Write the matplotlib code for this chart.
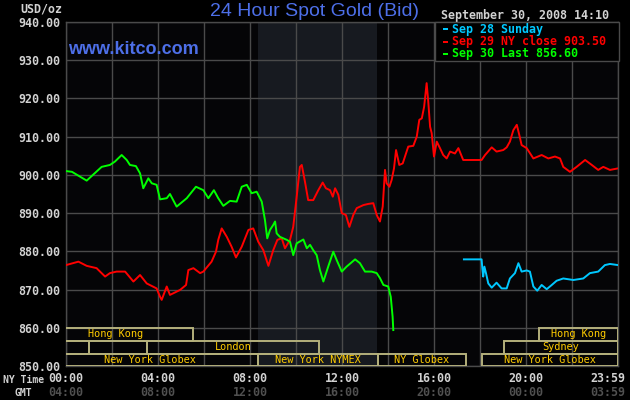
import matplotlib
matplotlib.use('Agg')
import matplotlib.pyplot as plt
from matplotlib.patches import Rectangle
from matplotlib.transforms import offset_copy

# ---------------- data ----------------
sep30_hours = [0.00, 0.26, 0.90, 1.17, 1.55, 1.91, 2.13, 2.42, 2.64, 2.78, 3.04, 3.22, 3.36, 3.58,
               3.73, 3.94, 4.09, 4.38, 4.52, 4.81, 5.25, 5.65, 5.97, 6.19, 6.43, 6.62, 6.84, 7.13,
               7.42, 7.64, 7.86, 8.07, 8.29, 8.51, 8.65, 8.75, 8.87, 9.01, 9.09, 9.16, 9.30, 9.60,
               9.74, 9.88, 10.03, 10.32, 10.47, 10.61, 10.75, 10.90, 11.04, 11.19, 11.40, 11.62,
               11.77, 11.99, 12.20, 12.57, 12.78, 13.00, 13.29, 13.51, 13.65, 13.80, 14.01, 14.12,
               14.20, 14.23]
sep30_price = [901.0, 900.8, 898.5, 900.0, 902.1, 902.6, 903.5, 905.2, 903.9, 902.6, 902.3, 900.4,
               896.5, 899.1, 897.8, 897.4, 893.6, 893.9, 895.0, 891.7, 893.9, 896.9, 896.0, 893.9,
               896.0, 893.9, 891.9, 893.2, 893.0, 896.9, 897.4, 895.2, 895.6, 893.0, 888.2, 883.4,
               885.6, 886.9, 887.8, 884.7, 883.8, 883.0, 882.5, 879.0, 882.1, 883.1, 880.8, 881.7,
               880.3, 879.0, 875.1, 872.1, 876.0, 879.9, 877.7, 874.7, 876.0, 877.9, 876.9, 874.7,
               874.7, 874.3, 873.0, 871.2, 870.8, 868.1, 862.9, 859.4]

sep29_hours = [0.00, 0.54, 0.90, 1.33, 1.48, 1.70, 1.91, 2.20, 2.57, 2.93, 3.22, 3.51, 3.94, 4.09,
               4.16, 4.38, 4.52, 4.96, 5.22, 5.32, 5.54, 5.83, 5.97, 6.33, 6.52, 6.62, 6.77, 6.99,
               7.20, 7.39, 7.64, 7.93, 8.14, 8.36, 8.58, 8.80, 9.01, 9.19, 9.38, 9.52, 9.74, 9.88,
               10.03, 10.17, 10.25, 10.39, 10.53, 10.75, 10.97, 11.16, 11.30, 11.48, 11.60, 11.70,
               11.84, 11.99, 12.17, 12.32, 12.49, 12.64, 12.93, 13.14, 13.36, 13.51, 13.65, 13.77,
               13.87, 13.94, 14.06, 14.16, 14.26, 14.35, 14.49, 14.64, 14.88, 15.10, 15.25, 15.36,
               15.47, 15.57, 15.68, 15.75, 15.83, 15.90, 16.00, 16.12, 16.26, 16.40, 16.55, 16.70,
               16.91, 17.06, 17.27, 18.07, 18.22, 18.51, 18.72, 19.01, 19.16, 19.30, 19.45, 19.60,
               19.71, 19.81, 20.03, 20.32, 20.68, 20.97, 21.26, 21.48, 21.62, 21.91, 22.20, 22.57,
               22.86, 23.14, 23.36, 23.65, 24.00]
sep29_price = [876.4, 877.3, 876.2, 875.6, 874.7, 873.4, 874.3, 874.7, 874.7, 872.1, 873.8, 871.6,
               870.3, 868.1, 867.3, 870.8, 868.6, 869.9, 871.2, 875.1, 875.6, 874.3, 874.7, 877.3,
               879.9, 883.0, 886.0, 883.8, 881.2, 878.4, 881.2, 885.6, 886.0, 882.5, 880.3, 876.2,
               880.3, 883.0, 883.4, 880.8, 883.0, 886.4, 894.3, 902.1, 902.6, 898.2, 893.4, 893.4,
               896.0, 898.0, 896.5, 896.0, 894.3, 896.5, 894.8, 890.0, 889.5, 886.4, 889.5, 891.3,
               892.1, 892.4, 892.6, 889.5, 887.8, 891.7, 901.3, 897.8, 896.9, 898.7, 901.7, 906.5,
               902.6, 903.0, 907.4, 907.6, 910.0, 914.4, 914.8, 917.8, 924.0, 919.2, 912.6, 910.9,
               904.8, 908.7, 907.0, 905.2, 904.3, 906.1, 905.6, 907.0, 903.9, 903.9, 905.2, 907.2,
               906.1, 906.5, 907.2, 908.7, 911.7, 913.1, 910.4, 907.8, 907.0, 904.3, 905.2, 904.3,
               904.8, 904.3, 902.1, 900.8, 902.1, 903.9, 902.6, 901.3, 902.1, 901.3, 901.7]

sep28_hours = [17.30, 18.07, 18.10, 18.14, 18.19, 18.26, 18.36, 18.51, 18.72, 18.94, 19.16, 19.30,
               19.52, 19.67, 19.81, 20.03, 20.17, 20.32, 20.49, 20.68, 20.90, 21.12, 21.33, 21.62,
               22.06, 22.49, 22.78, 23.14, 23.43, 23.65, 24.00]
sep28_price = [877.9, 877.9, 875.6, 873.4, 876.0, 874.3, 871.6, 870.5, 871.8, 870.3, 870.3, 872.9,
               874.3, 876.9, 874.7, 875.0, 874.7, 870.8, 869.7, 871.2, 870.1, 871.2, 872.3, 872.9,
               872.5, 872.9, 874.3, 874.7, 876.4, 876.7, 876.4]

price_ticks = [850, 860, 870, 880, 890, 900, 910, 920, 930, 940]
hour_grid = [0, 2, 4, 6, 8, 10, 12, 14, 16, 18, 20, 22, 24]
ny_labels = ['00:00', '', '04:00', '', '08:00', '', '12:00', '', '16:00', '', '20:00', '', '23:59']
gmt_labels = ['04:00', '', '08:00', '', '12:00', '', '16:00', '', '20:00', '', '00:00', '', '03:59']

legend_labels = ['Sep 28 Sunday', 'Sep 29 NY close 903.50', 'Sep 30 Last 856.60']

nymex_span = (8.33, 13.5)

session_names = ['Hong Kong', 'Hong Kong', '', '', 'London', 'Sydney',
                 'New York Globex', 'New York NYMEX', 'NY Globex', 'New York Globex']
session_rows = [0, 0, 1, 1, 1, 1, 2, 2, 2, 2]
session_start = [-1.25, 20.57, -1.0, 1.0, 3.5, 19.04, -1.0, 8.33, 13.55, 18.09]
session_end = [5.52, 24.0, 1.0, 3.5, 11.0, 24.0, 8.33, 13.55, 17.4, 24.0]

# ---------------- style ----------------
W, H = 630, 400
BG = '#000000'
GRID = '#4a4a4a'
LABEL = '#d2d2d2'
BLUE = '#4d6fe8'
C_CYAN = '#00c8ff'
C_RED = '#ff0000'
C_GREEN = '#00ff00'
MONO = 'DejaVu Sans Mono'

fig = plt.figure(figsize=(W / 100, H / 100), dpi=100, facecolor=BG)
ax = fig.add_axes([66 / W, 1 - 366 / H, (618 - 66) / W, (366 - 22) / H])
ax.set_facecolor('#050507')
ax.set_xlim(0, 24)
ax.set_ylim(850, 940)

ax.axvspan(*nymex_span, color='#171a20', zorder=0, lw=0)

ax.set_yticks(price_ticks, [f'{v:.2f}' for v in price_ticks])
ax.set_xticks(hour_grid, [''] * len(hour_grid))
ax.grid(True, color=GRID, lw=1.0, zorder=1)
ax.tick_params(length=0, colors=LABEL)
for lab in ax.get_yticklabels():
    lab.set_fontfamily(MONO); lab.set_fontweight('bold'); lab.set_fontsize(8.4); lab.set_color(LABEL)
ax.tick_params(axis='y', pad=4)
for s in ax.spines.values():
    s.set_color(GRID)
    s.set_linewidth(1.0)

# time rows (NY time and GMT)
xt = ax.get_xaxis_transform()
n = len(hour_grid)
for i, (h, ny, gmt) in enumerate(zip(hour_grid, ny_labels, gmt_labels)):
    tr = offset_copy(xt, fig=fig, x=-10 if i == n - 1 else 0, y=0, units='dots')
    if ny:
        ax.text(h, -0.037, ny, transform=tr, ha='center', va='center', fontfamily=MONO,
                fontweight='bold', fontsize=8.4, color=LABEL, clip_on=False)
    if gmt:
        ax.text(h, -0.077, gmt, transform=tr, ha='center', va='center', fontfamily=MONO,
                fontweight='bold', fontsize=8.4, color='#505050', clip_on=False)

# series
ax.plot(sep29_hours, sep29_price, color=C_RED, lw=1.4, zorder=3)
ax.plot(sep30_hours, sep30_price, color=C_GREEN, lw=1.4, zorder=4)
ax.plot(sep28_hours, sep28_price, color=C_CYAN, lw=1.4, zorder=3)

# session bars
row_bounds = [(0.0727, 0.1105), (0.0349, 0.0727), (0.0, 0.0349)]
for name, r, s, e in zip(session_names, session_rows, session_start, session_end):
    y0, y1 = row_bounds[r]
    rect = Rectangle((s, y0), e - s, y1 - y0, transform=xt, fill=False,
                     ec='#b4b07c', lw=1.4, zorder=5, clip_on=True)
    ax.add_patch(rect)
    if name:
        ax.text((s + e) / 2, (y0 + y1) / 2, name, transform=xt, ha='center', va='center',
                fontfamily=MONO, fontsize=7.4, color='#ffcc00', zorder=6, clip_on=True)

# figure texts
def fx(x):
    return x / W

def fy(y):
    return 1 - y / H

fig.text(fx(20), fy(8.5), 'USD/oz', fontfamily=MONO, fontweight='bold', fontsize=8.4,
         color=LABEL, ha='left', va='center')
fig.text(fx(314), fy(12), '24 Hour Spot Gold (Bid)', fontfamily='Liberation Sans', fontsize=14,
         color=BLUE, ha='center', va='center')
fig.text(fx(68), fy(49), 'www.kitco.com', fontfamily='Liberation Sans', fontweight='bold',
         fontsize=13, color=BLUE, ha='left', va='center', zorder=10)
fig.text(fx(441), fy(15), 'September 30, 2008 14:10', fontfamily=MONO, fontweight='bold',
         fontsize=8.4, color=LABEL, ha='left', va='center')
fig.text(fx(44), fy(380), 'NY Time', fontfamily=MONO, fontweight='bold', fontsize=7.0,
         color=LABEL, ha='right', va='center')
fig.text(fx(32), fy(392.5), 'GMT', fontfamily=MONO, fontweight='bold', fontsize=7.0,
         color=LABEL, ha='right', va='center')

# legend box
leg = Rectangle((fx(435), fy(61)), (619 - 435) / W, (61 - 22) / H, transform=fig.transFigure,
                fc='#000000', ec=GRID, lw=1.0, zorder=20)
fig.add_artist(leg)
for lab, col, y in zip(legend_labels, [C_CYAN, C_RED, C_GREEN], [29, 41.5, 54]):
    fig.add_artist(Rectangle((fx(443), fy(y) - 1 / H), 5 / W, 2 / H, transform=fig.transFigure,
                             fc=col, ec='none', zorder=21))
    fig.text(fx(452), fy(y), lab, fontfamily=MONO, fontweight='bold', fontsize=8.4, color=col,
             ha='left', va='center', zorder=22)

fig.savefig('out.png', dpi=100, facecolor=BG)
